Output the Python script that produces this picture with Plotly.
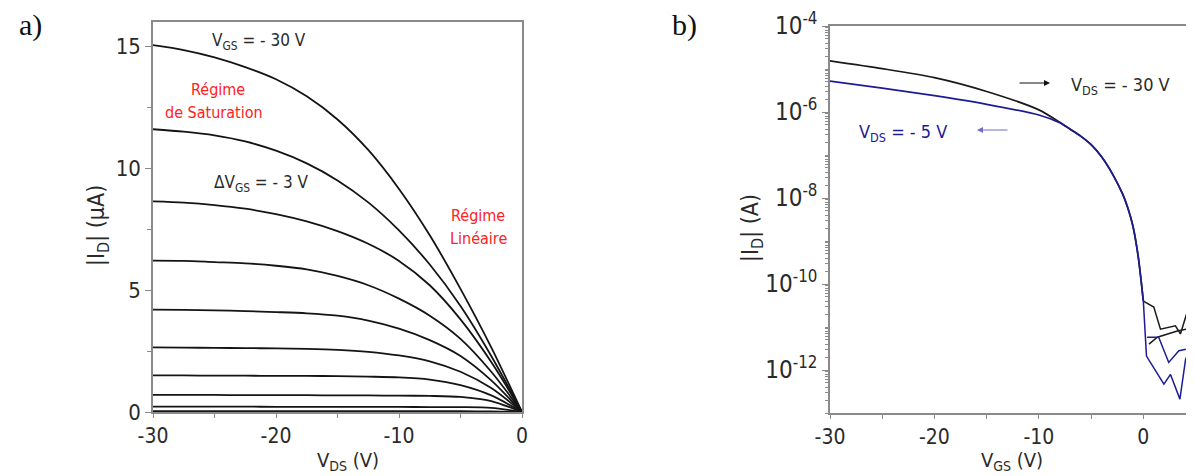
import plotly.graph_objects as go

# page offset of the figure inside the html body (default 8px body margin)
OX, OY = 8, 8
W, H = 1194 - OX, 476 - OY

# ---------------- Panel a) output characteristics ----------------
vds = [-30, -27.5, -25, -22.5, -20, -17.5, -15, -12.5, -10, -7.5, -5, -2.5, 0]
vgs_labels = ["-30", "-27", "-24", "-21", "-18", "-15", "-12", "-9", "-6", "-3"]
id_curves = [
    [15.05, 14.85, 14.55, 14.15, 13.65, 12.95, 12.0, 10.75, 9.15, 7.25, 5.05, 2.65, 0],
    [11.6, 11.5, 11.35, 11.1, 10.72, 10.2, 9.5, 8.6, 7.45, 6.05, 4.35, 2.3, 0],
    [8.64, 8.59, 8.49, 8.34, 8.12, 7.82, 7.42, 6.9, 6.2, 5.2, 3.8, 2.05, 0],
    [6.21, 6.2, 6.15, 6.1, 6.0, 5.85, 5.58, 5.2, 4.65, 3.95, 3.0, 1.65, 0],
    [4.2, 4.19, 4.17, 4.14, 4.1, 4.05, 3.95, 3.75, 3.42, 2.95, 2.3, 1.3, 0],
    [2.65, 2.64, 2.63, 2.62, 2.61, 2.59, 2.55, 2.47, 2.32, 2.08, 1.65, 0.98, 0],
    [1.5, 1.5, 1.49, 1.49, 1.48, 1.48, 1.47, 1.45, 1.42, 1.33, 1.1, 0.68, 0],
    [0.7, 0.7, 0.7, 0.69, 0.69, 0.69, 0.68, 0.68, 0.67, 0.66, 0.62, 0.45, 0],
    [0.22, 0.22, 0.22, 0.22, 0.21, 0.21, 0.21, 0.21, 0.21, 0.2, 0.2, 0.17, 0],
    [0.03, 0.03, 0.03, 0.03, 0.03, 0.03, 0.03, 0.03, 0.03, 0.03, 0.03, 0.02, 0],
]
xa_ticks = [-30, -20, -10, 0]
xa_text = ["-30", "-20", "-10", "0"]
ya_ticks = [0, 5, 10, 15]
ya_text = ["0", "5", "10", "15"]

# ---------------- Panel b) transfer characteristics ----------------
vgs_on = [-30, -25, -20, -15, -10, -8, -7, -6, -5, -4, -3, -2, -1.5, -1, -0.5, -0.2, 0]
id_on_30 = [1.55e-5, 1.02e-5, 6.3e-6, 3.0e-6, 1.12e-6, 5.75e-7, 3.98e-7, 2.75e-7, 1.74e-7,
            9.1e-8, 3.8e-8, 1.26e-8, 6.0e-9, 2.24e-9, 4.5e-10, 1.12e-10, 4.0e-11]
id_on_5 = [5.25e-6, 3.6e-6, 2.4e-6, 1.51e-6, 8.5e-7, 5.6e-7, 3.98e-7, 2.75e-7, 1.74e-7,
           9.1e-8, 3.8e-8, 1.26e-8, 6.0e-9, 2.24e-9, 4.5e-10, 1.12e-10, 4.0e-11]
# noisy off part (forward then backward sweep)
vgs_off_30 = [0, 1.0, 1.64, 3.07, 3.55, 4.19, 5.2, 5.2, 3.25, 1.34, 0.54]
id_off_30 = [4.0e-11, 2.9e-11, 8.9e-12, 1.07e-11, 6.9e-12, 2.2e-11, 3.5e-11,
             1.0e-11, 8.1e-12, 5.8e-12, 4.0e-12]
vgs_off_5 = [0, 0.3, 1.97, 2.6, 3.5, 4.05, 5.2, 5.2, 4.26, 3.4, 2.43, 1.47, 0.36]
id_off_5 = [4.0e-11, 2.1e-12, 4.7e-13, 7.9e-13, 2.1e-13, 1.8e-12, 5.0e-12,
            1.26e-12, 3.1e-12, 2.8e-12, 1.5e-12, 5.8e-12, 5.8e-12]
xb_ticks = [-30, -20, -10, 0]
xb_text = ["-30", "-20", "-10", "0"]
log_tickvals = [1e-4, 1e-6, 1e-8, 1e-10, 1e-12]
log_ticktext = ["10<sup>-4</sup>", "10<sup>-6</sup>", "10<sup>-8</sup>",
                "10<sup>-10</sup>", "10<sup>-12</sup>"]
log_minor = [d * 10.0 ** e for e in range(-13, -4) for d in range(1, 10)]

FONT = "DejaVu Sans Condensed, DejaVu Sans, sans-serif"
AXC = "#8a8a8a"
TXT = "#2a2a2a"
BLUE = "#1c1c96"


def fx(x):
    return (x - OX) / W


def fy(y):
    return 1 - (y - OY) / H


fig = go.Figure()

for i, ys in enumerate(id_curves):
    fig.add_trace(go.Scatter(
        x=vds, y=ys, mode="lines", name="VGS " + vgs_labels[i],
        line=dict(color="#141414", width=1.8, shape="spline", smoothing=0.8),
        xaxis="x", yaxis="y", showlegend=False, hoverinfo="skip"))

fig.add_trace(go.Scatter(x=vgs_on, y=id_on_30, mode="lines", name="VDS -30",
                         line=dict(color="#1a1a1a", width=1.7, shape="spline", smoothing=0.7),
                         xaxis="x2", yaxis="y2", showlegend=False))
fig.add_trace(go.Scatter(x=vgs_off_30, y=id_off_30, mode="lines", name="VDS -30 off",
                         line=dict(color="#1a1a1a", width=1.5),
                         xaxis="x2", yaxis="y2", showlegend=False))
fig.add_trace(go.Scatter(x=vgs_on, y=id_on_5, mode="lines", name="VDS -5",
                         line=dict(color=BLUE, width=1.7, shape="spline", smoothing=0.7),
                         xaxis="x2", yaxis="y2", showlegend=False))
fig.add_trace(go.Scatter(x=vgs_off_5, y=id_off_5, mode="lines", name="VDS -5 off",
                         line=dict(color=BLUE, width=1.5),
                         xaxis="x2", yaxis="y2", showlegend=False))

axis_common = dict(
    showgrid=False, zeroline=False, showline=True, linecolor=AXC, linewidth=1.5,
    ticks="outside", tickcolor=AXC, tickwidth=1.2,
    mirror=True, automargin=False,
)
tf = dict(family=FONT, size=21, color=TXT)
tf_y = dict(family=FONT, size=22, color=TXT)
tf_log = dict(family=FONT, size=24, color=TXT)

fig.update_layout(
    width=W, height=H,
    margin=dict(l=0, r=0, t=0, b=0, autoexpand=False),
    paper_bgcolor="white", plot_bgcolor="white",
    xaxis=dict(domain=[fx(153), fx(522)], range=[-30, 0], ticklen=4,
               tickvals=xa_ticks, ticktext=xa_text, tickfont=tf,
               minor=dict(tickvals=[-25, -15, -5], ticks="outside", ticklen=4, tickcolor=AXC),
               anchor="y", **axis_common),
    yaxis=dict(domain=[fy(412), fy(22)], range=[0, 16], ticklen=6,
               tickvals=ya_ticks, ticktext=ya_text, tickfont=tf_y,
               minor=dict(tickvals=[2.5, 7.5, 12.5], ticks="outside", ticklen=4, tickcolor=AXC),
               anchor="x", **axis_common),
    xaxis2=dict(domain=[fx(830), 1.0], range=[-30, 4.85], ticklen=4,
                tickvals=xb_ticks, ticktext=xb_text, tickfont=tf,
                minor=dict(tickvals=[-25, -15, -5], ticks="outside", ticklen=4, tickcolor=AXC),
                anchor="y2", **axis_common),
    yaxis2=dict(domain=[fy(413), fy(26)], type="log", range=[-13, -4], ticklen=6,
                tickvals=log_tickvals, ticktext=log_ticktext, tickfont=tf_log,
                minor=dict(tickvals=log_minor, ticks="outside", ticklen=3, tickcolor=AXC),
                anchor="x2", **axis_common),
)

annots = []


def txt(x, y, text, size=17, color=TXT, family=FONT, xanchor="center", angle=0):
    annots.append(dict(x=fx(x), y=fy(y), xref="paper", yref="paper", text=text,
                       showarrow=False, xanchor=xanchor, yanchor="middle",
                       textangle=angle,
                       font=dict(family=family, size=size, color=color)))


# panel labels
txt(30, 25, "a)", size=30, family="Liberation Serif, Times New Roman, serif", color="#111")
txt(684, 25, "b)", size=30, family="Liberation Serif, Times New Roman, serif", color="#111")

# axis titles
txt(98, 226, "|I<sub>D</sub>| (µA)", size=23, angle=-90)
txt(348, 461, "V<sub>DS</sub> (V)", size=20)
txt(752, 228, "|I<sub>D</sub>| (A)", size=23, angle=-90)
txt(1012, 461, "V<sub>GS</sub> (V)", size=20)

# panel a annotations
txt(210, 42, "V<sub>GS</sub> = - 30 V", size=17, xanchor="left")
txt(218, 89, "Régime", size=16, color="#ff2020")
txt(214, 113, "de Saturation", size=16, color="#ff2020")
txt(212, 183, "ΔV<sub>GS</sub> = - 3 V", size=17, xanchor="left")
txt(478, 215, "Régime", size=16, color="#ff2020")
txt(479, 238, "Linéaire", size=16, color="#ff2020")

# panel b annotations
txt(1069, 86, "V<sub>DS</sub> = - 30 V", size=18, xanchor="left")
txt(857, 133, "V<sub>DS</sub> = - 5 V", size=18, color=BLUE, xanchor="left")

# arrows (pixel offsets for tails)
annots.append(dict(x=fx(1050), y=fy(83), xref="paper", yref="paper", text="", showarrow=True,
                   ax=-32, ay=0, arrowhead=2, arrowsize=1, arrowwidth=1.2,
                   arrowcolor="#111"))
annots.append(dict(x=fx(977), y=fy(130), xref="paper", yref="paper", text="", showarrow=True,
                   ax=32, ay=0, arrowhead=2, arrowsize=1, arrowwidth=1.2,
                   arrowcolor="#6f6fc8"))

fig.update_layout(annotations=annots)

fig.write_html("out.html")
